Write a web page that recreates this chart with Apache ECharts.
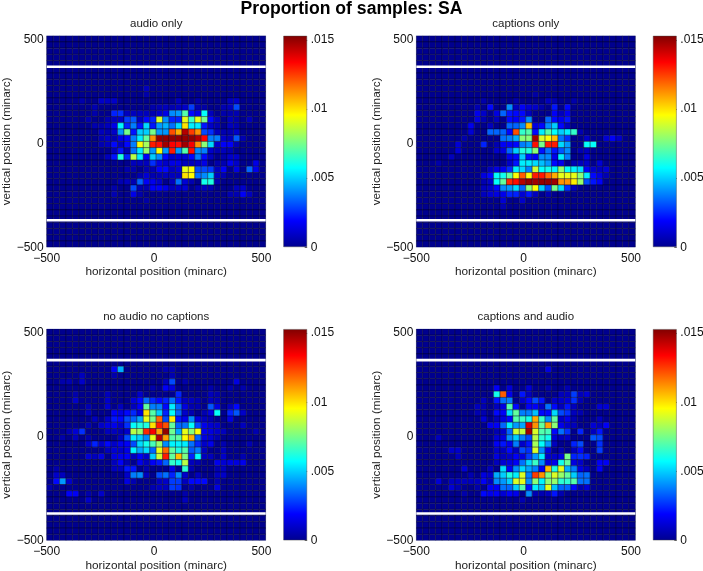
<!DOCTYPE html>
<html><head><meta charset="utf-8">
<style>html,body{margin:0;padding:0;background:#fff}#c{width:703px;height:571px}</style>
<script src="https://cdn.jsdelivr.net/npm/echarts@6/dist/echarts.min.js"></script>
</head><body><div id="c"></div>
<script>
// Each panel: [row from top, [column, value, column, value, ...]], value in 1/10000 of samples; absent bins are 0.
const audioOnly = [
[8,[15,8]],[9,[15,5]],
[10,[5,5,8,10,9,9,10,10,20,8,23,5,28,8,29,10]],
[11,[7,6,16,5,17,6,18,8,19,6,20,8,21,10,22,28,23,6,24,4,27,6,28,8,29,30]],
[12,[7,5,10,24,11,26,12,8,13,8,14,8,15,8,16,6,17,10,18,15,19,40,20,42,21,70,22,20,23,15,24,58,25,8,27,5,28,5,29,6]],
[13,[6,5,9,6,10,8,11,9,12,28,13,32,14,8,15,20,16,24,17,90,18,40,19,24,20,24,21,92,22,65,23,92,24,75,25,20,26,8,28,8,29,5,31,7]],
[14,[7,6,8,5,9,8,10,15,11,56,12,24,13,38,14,22,15,52,16,22,17,42,18,46,19,36,20,52,21,100,22,55,23,55,24,22,25,10,26,6,28,8,29,6]],
[15,[8,8,9,6,10,10,11,42,12,75,13,22,14,50,15,50,16,75,17,42,18,42,19,122,20,108,21,145,22,125,23,112,24,30,25,26,26,8,27,6,28,6,29,10]],
[16,[8,6,9,10,10,6,11,15,12,20,13,38,14,55,15,72,16,112,17,150,18,150,19,150,20,150,21,150,22,150,23,145,24,134,25,38,26,38,27,10,28,8,29,32,30,6]],
[17,[8,6,9,8,10,20,11,8,12,20,13,38,14,95,15,82,16,130,17,132,18,148,19,134,20,132,21,148,22,135,23,112,24,78,25,52,26,10,27,18,28,18,29,6]],
[18,[10,8,11,22,12,6,13,36,14,55,15,80,16,42,17,95,18,42,19,130,20,42,21,70,22,132,23,40,24,38,25,10,26,6,27,8,28,6]],
[19,[9,8,10,22,11,62,12,24,13,85,14,55,15,18,16,50,17,40,18,20,19,10,20,12,21,12,22,20,23,38,24,20,25,8,27,5,28,10,29,10]],
[20,[13,8,14,8,15,8,16,26,17,14,18,10,19,15,20,15,21,8,22,8,23,10,24,15,26,5,27,6,28,16,29,10,32,15]],
[21,[12,5,13,5,15,6,16,6,17,18,18,20,19,8,20,12,21,92,22,95,23,30,24,30,25,28,26,8,27,18,29,14,31,34,32,16]],
[22,[14,6,15,12,16,6,17,6,18,8,19,8,20,8,21,100,22,96,23,36,24,40,25,50,26,8,27,6]],
[23,[11,6,12,8,13,6,14,34,15,18,16,16,17,10,19,8,20,36,21,12,22,6,24,60,25,62,26,6]],
[24,[10,5,13,30,14,6,15,6,16,18,17,18,18,15,19,8,20,10,21,12,23,6,24,8,25,6,29,8,30,10]],
[25,[10,6,13,15,14,5,28,6,29,6,30,18,31,8]],
[26,[15,4]]
];
const captionsOnly = [
[9,[18,4]],[10,[10,5,15,5,20,8,21,6,24,5]],
[11,[11,20,9,6,14,40,15,8,16,18,17,12,18,10,19,5,21,22,23,20]],
[12,[9,16,10,10,12,14,13,34,14,22,15,20,16,20,17,8,21,18,22,8,23,16]],
[13,[9,14,10,6,12,8,14,20,15,18,16,22,17,40,20,34,21,20,22,16,23,22]],
[14,[8,16,11,8,14,34,15,34,16,40,17,105,18,14,19,20,20,40,21,50,22,20,23,8]],
[15,[8,12,11,34,12,34,13,34,14,20,15,122,16,65,17,70,18,20,19,55,20,70,21,58,22,50,23,55,24,65,25,6]],
[16,[7,5,13,36,14,38,15,45,16,78,17,78,18,148,19,90,20,95,21,105,22,36,23,26,26,10,29,12,30,18,31,10]],
[17,[6,12,10,24,12,6,13,18,14,18,15,20,16,38,17,42,18,132,19,75,20,130,21,130,22,52,23,42,26,58,27,58]],
[18,[6,12,12,10,13,14,14,34,15,50,16,62,17,62,18,78,19,22,20,36,21,22,22,32,23,40,25,6,26,8]],
[19,[5,8,14,16,15,20,16,50,17,22,18,18,19,40,20,40,21,16,22,55,23,38,26,14]],
[20,[3,5,14,10,15,22,16,55,17,55,18,52,19,48,20,42,21,20,22,16,24,6,25,8,26,10,28,12]],
[21,[11,8,12,14,13,16,14,25,15,55,16,52,17,38,18,88,19,58,20,60,21,56,22,80,23,58,24,55,25,52,26,18,27,10,28,8,29,12]],
[22,[10,14,11,20,12,58,13,60,14,72,15,95,16,120,17,95,18,130,19,130,20,118,21,108,22,92,23,92,24,92,25,78,26,55,27,20,28,14,29,6]],
[23,[10,6,11,10,12,58,13,72,14,128,15,132,16,145,17,150,18,148,19,150,20,150,21,148,22,112,23,112,24,98,25,80,26,30,27,22,28,18]],
[24,[10,8,11,10,12,20,13,40,14,42,15,52,16,34,17,78,18,95,19,50,20,30,21,75,22,52,23,26,24,8]],
[25,[10,8,11,12,12,14,13,16,14,24,15,24,16,12,17,22,18,8,20,6]],
[26,[13,12,16,10]],[27,[13,6]]
];
const noAudioNoCaptions = [
[6,[10,18,11,45,18,6,19,6]],[7,[5,8,10,5,19,6]],
[8,[5,10,2,5,3,6,19,30,29,14,18,8,21,5]],
[9,[16,5,18,18,19,14,25,5,28,5,30,5]],
[10,[4,5,9,8,14,10,20,24,25,8,26,5]],
[11,[4,10,9,10,13,12,14,20,15,35,16,25,17,20,18,24,19,36,20,22,21,8,22,8,23,6,25,8,26,6]],
[12,[6,6,9,12,11,8,13,8,14,18,15,72,16,38,17,38,18,20,19,55,20,34,21,14,22,6,23,6,25,32,26,14,29,20,28,8]],
[13,[6,8,10,18,11,14,12,20,13,25,14,14,15,100,16,70,17,50,18,24,19,58,20,34,21,10,22,6,24,6,25,14,26,58,28,24,29,32,30,10]],
[14,[7,8,9,10,10,22,11,20,12,30,13,34,14,44,15,92,16,75,17,118,18,30,19,98,20,22,21,16,22,40,23,14,24,8,25,6,28,14]],
[15,[6,6,8,10,9,14,10,16,11,10,12,26,13,58,14,62,15,62,16,100,17,130,18,122,19,72,20,34,21,36,22,58,23,30,24,16,25,12,26,10,30,8]],
[16,[4,12,5,26,3,6,9,8,10,8,11,6,12,10,13,85,14,80,15,128,16,135,17,110,18,150,19,74,20,44,21,92,22,78,23,95,24,16,25,14,26,10,27,8,32,6]],
[17,[2,5,4,8,6,5,11,8,12,30,13,55,14,50,15,40,16,92,17,145,18,110,19,70,20,72,21,96,22,108,23,34,24,14,25,12,26,6]],
[18,[6,10,7,24,8,10,9,20,10,10,11,16,12,18,13,30,14,52,15,60,16,68,17,80,18,40,19,56,20,56,21,55,22,36,23,25,24,10,25,16,27,6,31,6]],
[19,[9,8,10,12,11,10,12,15,13,56,14,44,15,52,16,34,17,92,18,118,19,72,20,62,21,70,22,32,23,38,24,8,27,8]],
[20,[6,12,7,8,8,14,10,14,11,16,12,18,13,8,14,18,15,10,16,50,17,88,18,130,19,72,20,105,21,76,22,24,23,58,24,8,25,8,27,10,30,6]],
[21,[10,8,11,18,12,6,14,16,15,8,16,18,17,22,18,34,19,65,20,60,21,85,22,8,23,6,26,16,27,12,28,14,29,14,30,16]],
[22,[1,5,10,8,11,8,12,22,13,22,15,6,19,15,21,64,22,6,26,6,27,8]],
[23,[1,10,2,8,12,10,13,38,14,40,15,8,17,30,18,36,19,24,20,40,21,10,23,8,26,8,27,10]],
[24,[1,20,2,42,3,10,12,14,13,6,17,8,18,10,19,28,20,28,21,8,22,20,23,20,24,20,26,6]],
[25,[0,5,16,6,17,8,18,8,19,28,20,26,22,5,26,14]],
[26,[3,18,4,18,8,10,6,5,21,5]],
[27,[6,10,21,8]]
];
const captionsAndAudio = [
[6,[20,14]],
[9,[12,18,14,12,17,12,20,5,23,6]],
[10,[12,60,13,120,14,16,16,22,17,8,22,8,23,8,24,28,25,8,26,12]],
[11,[10,8,12,22,13,36,14,38,16,10,17,20,18,30,19,22,21,10,22,10,23,12,24,26,25,6]],
[12,[9,8,10,6,12,8,13,14,14,70,15,20,17,18,18,18,19,10,20,36,21,20,22,8,23,22,24,8,28,12,29,12]],
[13,[9,6,10,6,12,20,13,18,14,52,15,72,16,38,17,38,18,48,19,20,20,20,21,52,22,30,23,26,24,8,25,6]],
[14,[10,12,12,8,13,14,14,20,15,70,16,66,17,60,18,108,19,66,20,40,21,72,22,10,23,16,24,6,28,8]],
[15,[11,16,12,18,13,34,14,55,15,42,16,44,17,140,18,112,19,72,20,110,21,78,22,16,23,10,24,8,27,12,29,18,28,8]],
[16,[12,6,13,10,14,34,15,88,16,86,17,148,18,90,19,70,20,68,21,20,22,36,23,26,25,24,28,22,27,8]],
[17,[3,8,12,12,13,14,14,40,15,50,16,38,17,30,18,85,19,64,20,60,21,12,22,8,23,10,27,32,28,30]],
[18,[12,18,13,22,14,16,15,38,16,10,17,22,18,82,19,58,20,42,21,8,24,24,25,30,28,26]],
[19,[5,10,6,10,12,10,13,8,14,20,15,8,16,30,17,26,18,90,19,40,20,14,22,6,25,20,28,28,24,8]],
[20,[6,8,12,14,13,8,14,10,15,18,16,14,17,28,18,42,19,55,20,10,21,10,22,14,23,75,24,24,25,26,26,24]],
[21,[12,8,13,12,14,14,15,18,16,36,17,52,18,66,19,40,20,14,21,16,22,60,23,72,24,14,25,10,28,18,29,18]],
[22,[7,12,11,8,13,52,14,18,15,40,16,52,17,44,18,38,19,18,20,106,21,62,22,92,23,45,24,38,25,14,26,8,28,18]],
[23,[8,6,10,14,11,10,12,45,13,50,14,62,15,55,16,90,17,38,18,125,19,112,20,76,21,90,22,80,23,72,24,50,25,34,26,36]],
[24,[3,12,5,8,6,8,7,8,8,8,9,8,10,18,11,8,12,40,13,42,14,50,15,90,16,92,17,40,18,78,19,56,20,78,21,80,22,64,23,64,24,70,25,36,26,36]],
[25,[5,12,6,6,9,5,11,18,12,18,13,36,14,34,15,50,16,70,17,22,18,55,19,48,20,92,21,48,22,34,23,34,24,20,25,6,26,12]],
[26,[7,5,10,20,11,16,12,18,13,12,14,18,15,16,17,40,21,22,18,6,19,6,20,8,22,6]],
[27,[16,6]]
];
const panelTitles = ['audio only', 'captions only', 'no audio no captions', 'captions and audio'];
const panelData = [audioOnly, captionsOnly, noAudioNoCaptions, captionsAndAudio];
const whiteLines = [370, -370];
const binSize = 30, binCount = 34, axisMin = -500, axisMax = 520;
const plotTicks = [-500, 0, 500];
const barTicks = [0, 0.005, 0.01, 0.015];
const barTickLabels = ['0', '.005', '.01', '.015'];
const colorMax = 0.0153;
const jet = ['#00008f','#0000ff','#0080ff','#00ffff','#80ff80','#ffff00','#ff8000','#ff0000','#800000'];

const font = '"Liberation Sans", Arial, sans-serif';
const lefts = [46.7, 416.3], tops = [35.7, 329];
const plotW = 219, plotH = 211.5, barLeft = 236.5, barW = 24;

function bins(rows) {
  const m = [];
  for (let r = 0; r < binCount; r++) m.push(new Array(binCount).fill(0));
  rows.forEach(([r, p]) => { for (let i = 0; i < p.length; i += 2) m[r][p[i]] = p[i + 1] / 10000; });
  const out = [];
  for (let r = 0; r < binCount; r++) for (let c = 0; c < binCount; c++)
    out.push([axisMin + c * binSize, axisMax - (r + 1) * binSize, m[r][c]]);
  return out;
}
function cell(params, api) {
  const a = api.coord([api.value(0), api.value(1) + binSize]);
  const b = api.coord([api.value(0) + binSize, api.value(1)]);
  return { type: 'rect', shape: { x: a[0], y: a[1], width: b[0] - a[0], height: b[1] - a[1] },
    style: { fill: api.visual('color'), stroke: 'rgba(0,0,30,0.55)', lineWidth: 0.7 } };
}
const fmt = v => String(v).replace('-', '\u2212');
const grids = [], xAxes = [], yAxes = [], series = [], titles = [], lineSeries = [], barSeries = [];
titles.push({ text: 'Proportion of samples: SA', left: 351.5, top: 0, padding: 0, textAlign: 'center',
  textStyle: { fontFamily: font, fontSize: 17.6, fontWeight: 'bold', color: '#000' } });
const titleTops = [17.5, 310.5];
panelData.forEach((rows, k) => {
  const L = lefts[k % 2], T = tops[k >> 1];
  grids.push({ left: L, top: T, width: plotW, height: plotH, outerBoundsMode: 'none', show: true, borderColor: '#c3c8e6', borderWidth: 1, backgroundColor: 'transparent' });
  xAxes.push({ type: 'value', gridIndex: k, min: axisMin, max: axisMax, interval: 500,
    name: 'horizontal position (minarc)', nameLocation: 'middle', nameGap: 19,
    nameTextStyle: { fontFamily: font, fontSize: 11.8, color: '#222' },
    axisLine: { show: false }, axisTick: { show: false }, splitLine: { show: false },
    axisLabel: { customValues: plotTicks, formatter: fmt, fontFamily: font, fontSize: 12, color: '#111', margin: 5 } });
  yAxes.push({ type: 'value', gridIndex: k, min: axisMin, max: axisMax, interval: 500,
    name: 'vertical position (minarc)', nameLocation: 'middle', nameGap: 29,
    nameTextStyle: { fontFamily: font, fontSize: 11.8, color: '#222' },
    axisLine: { show: false }, axisTick: { show: false }, splitLine: { show: false },
    axisLabel: { customValues: plotTicks, formatter: fmt, fontFamily: font, fontSize: 12, color: '#111', margin: 3 } });
  series.push({ type: 'custom', xAxisIndex: k, yAxisIndex: k, renderItem: cell, clip: true,
    data: bins(rows), encode: { x: 0, y: 1 }, silent: true, animation: false, z: 2 });
  whiteLines.forEach(y => lineSeries.push({ type: 'line', xAxisIndex: k, yAxisIndex: k, z: 3, silent: true, animation: false,
    showSymbol: false, data: [[axisMin, y], [axisMax, y]], lineStyle: { color: '#fff', width: 2.6 } }));
  titles.push({ text: panelTitles[k], left: L + plotW / 2, top: titleTops[k >> 1], padding: 0, textAlign: 'center',
    textStyle: { fontFamily: font, fontSize: 11.5, fontWeight: 'normal', color: '#222' } });
});
panelData.forEach((rows, k) => {
  const L = lefts[k % 2] + barLeft, T = tops[k >> 1], g = 4 + k;
  grids.push({ left: L, top: T, width: barW, height: plotH, outerBoundsMode: 'none' });
  xAxes.push({ type: 'category', gridIndex: g, data: [''], show: false });
  yAxes.push({ type: 'value', gridIndex: g, min: 0, max: colorMax, position: 'right',
    axisLine: { show: false }, splitLine: { show: false },
    axisTick: { show: true, inside: true, length: 2.5, customValues: barTicks, lineStyle: { color: '#444', width: 0.8 } },
    axisLabel: { customValues: barTicks, formatter: v => barTickLabels[barTicks.indexOf(v)], fontFamily: font, fontSize: 12, color: '#111', margin: 3.5 } });
  barSeries.push({ type: 'bar', xAxisIndex: g, yAxisIndex: g, data: [colorMax], barWidth: '100%', silent: true, animation: false, z: 1,
    itemStyle: { borderColor: 'rgba(70,70,70,0.55)', borderWidth: 0.8,
      color: new echarts.graphic.LinearGradient(0, 1, 0, 0, jet.map((c, i) => ({ offset: i / (jet.length - 1), color: c }))) } });
});
const chart = echarts.init(document.getElementById('c'), null, { renderer: 'canvas' });
chart.setOption({
  animation: false, backgroundColor: '#fff', title: titles, grid: grids, xAxis: xAxes, yAxis: yAxes,
  visualMap: { type: 'continuous', show: false, min: 0, max: colorMax, dimension: 2, seriesIndex: [0, 1, 2, 3], inRange: { color: jet } },
  series: series.concat(lineSeries, barSeries)
});
</script></body></html>
